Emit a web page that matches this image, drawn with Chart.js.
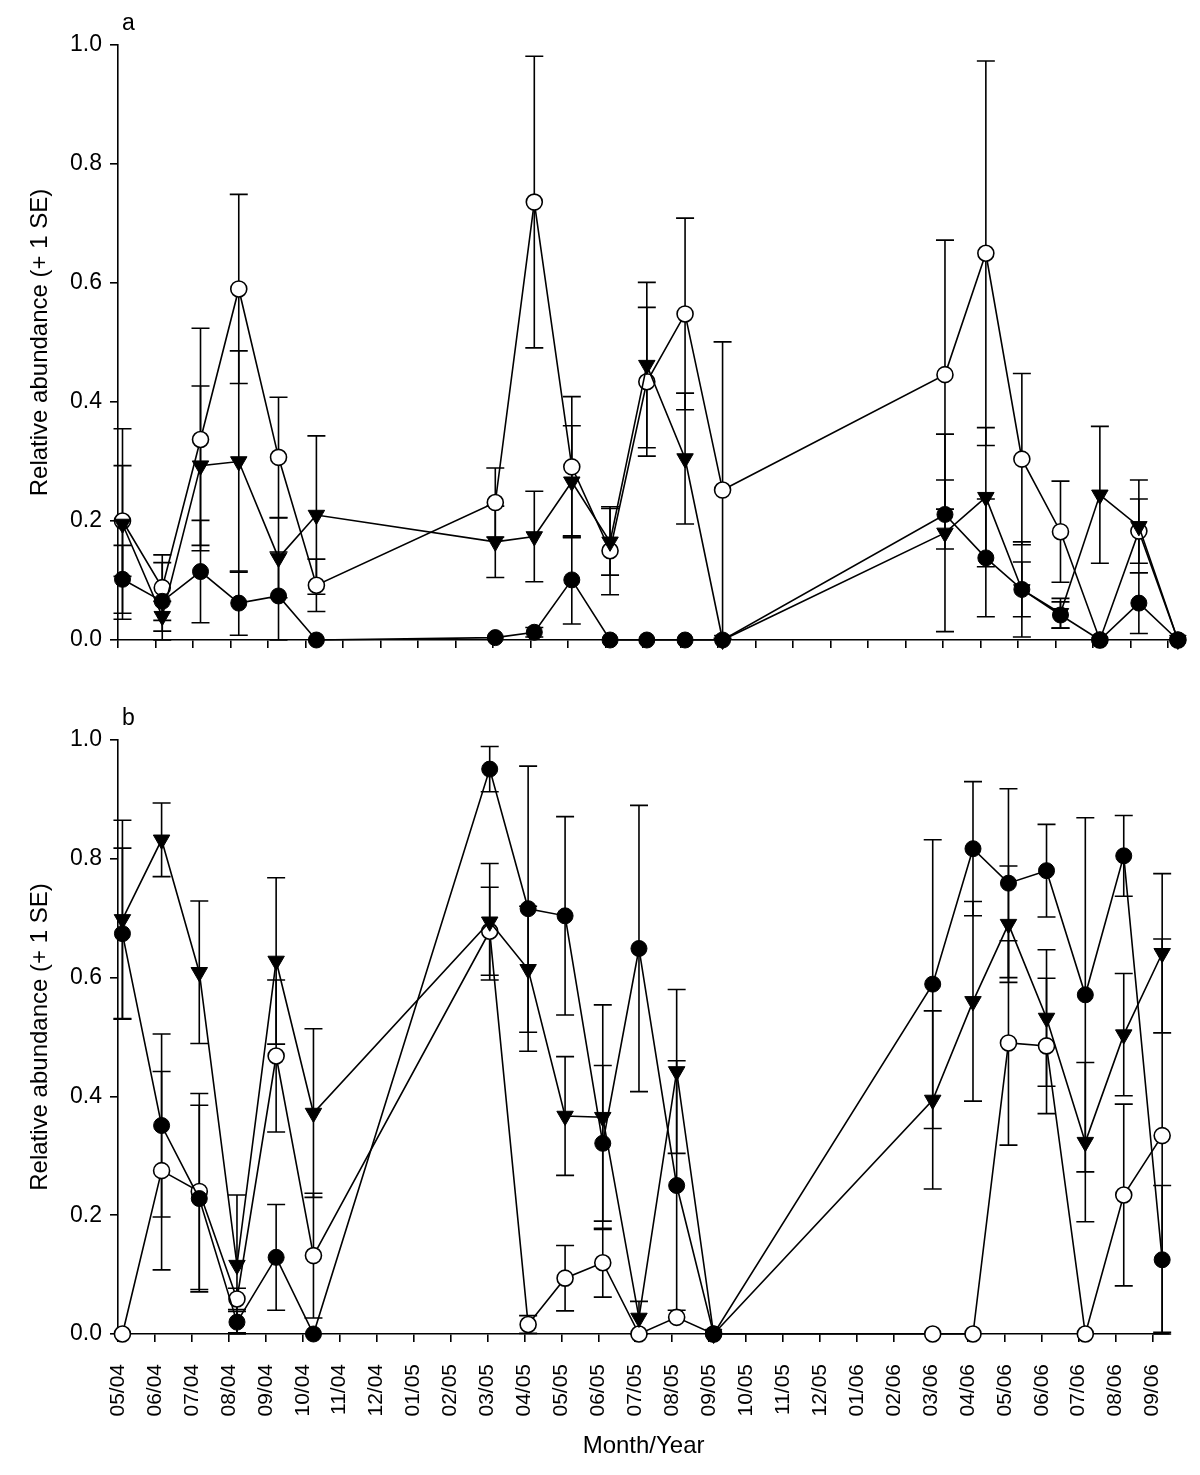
<!DOCTYPE html>
<html>
<head>
<meta charset="utf-8">
<title>Relative abundance</title>
<script src="https://cdn.jsdelivr.net/npm/chart.js@4.4.1/dist/chart.umd.min.js"></script>
<style>
  html, body { margin: 0; padding: 0; background: #fff; }
  #wrap { position: relative; width: 1200px; height: 1475px; }
  canvas { position: absolute; left: 0; }
  #chartA { top: 0; }
  #chartB { top: 700px; }
</style>
</head>
<body>
<div id="wrap">
  <canvas id="chartA" width="1200" height="700"></canvas>
  <canvas id="chartB" width="1200" height="775"></canvas>
</div>
<script>
// mois de l'axe x (index 0 = 05/04)
var monthLabels = ['05/04', '06/04', '07/04', '08/04', '09/04', '10/04', '11/04', '12/04',
    '01/05', '02/05', '03/05', '04/05', '05/05', '06/05', '07/05', '08/05', '09/05', '10/05',
    '11/05', '12/05', '01/06', '02/06', '03/06', '04/06', '05/06', '06/06', '07/06', '08/06', '09/06'];
// dates d'echantillonnage, en mois depuis 05/04
var sampleDates = [0.12, 1.18, 2.2, 3.22, 4.28, 5.29, 10.06, 11.1, 12.1, 13.12, 14.1, 15.12,
    16.12, 22.05, 23.14, 24.1, 25.13, 26.18, 27.22, 28.26];
var yTicks = [0, 0.2, 0.4, 0.6, 0.8, 1.0];

// panneau a
var aFilled = [0.102, 0.065, 0.115, 0.062, 0.074, 0, 0.004, 0.013, 0.101, 0, 0, 0, 0, 0.211, 0.138, 0.085, 0.042, 0, 0.062, 0];
var aFilledSE = [0.057, 0.065, 0.086, 0.054, 0.074, 0, 0, 0.008, 0.074, 0, 0, 0, 0, 0.058, 0.099, 0.046, 0.022, 0, 0.051, 0];
var aOpen = [0.2, 0.088, 0.337, 0.59, 0.307, 0.092, 0.231, 0.736, 0.291, 0.15, 0.434, 0.548, 0.252, 0.446, 0.65, 0.304, 0.182, 0, 0.183, 0];
var aOpenSE = [0.093, 0.055, 0.187, 0.159, 0.101, 0.044, 0.058, 0.245, 0.118, 0.074, 0.125, 0.161, 0.249, 0.226, 0.323, 0.144, 0.085, 0, 0.054, 0];
var aTri = [0.195, 0.04, 0.293, 0.3, 0.138, 0.21, 0.165, 0.174, 0.266, 0.165, 0.462, 0.305, 0, 0.18, 0.24, 0.085, 0.045, 0.244, 0.191, 0];
var aTriSE = [0.16, 0.025, 0.134, 0.186, 0.067, 0.133, 0.06, 0.076, 0.094, 0.056, 0.139, 0.11, 0, 0.166, 0.117, 0.08, 0.025, 0.115, 0.078, 0];

// panneau b
var bFilled = [0.674, 0.351, 0.228, 0.02, 0.129, 0, 0.951, 0.716, 0.704, 0.321, 0.649, 0.25, 0, 0.589, 0.817, 0.759, 0.78, 0.571, 0.805, 0.125];
var bFilledSE = [0.144, 0.154, 0.157, 0.018, 0.089, 0, 0.038, 0.24, 0.167, 0.131, 0.241, 0.21, 0, 0.243, 0.113, 0.159, 0.078, 0.298, 0.068, 0.125];
var bOpen = [0, 0.275, 0.24, 0.059, 0.468, 0.132, 0.678, 0.016, 0.094, 0.12, 0, 0.028, 0, 0, 0, 0.49, 0.485, 0, 0.234, 0.334];
var bOpenSE = [0, 0.167, 0.165, 0.018, 0.128, 0.105, 0.074, 0.015, 0.055, 0.058, 0, 0, 0, 0, 0, 0.172, 0.114, 0, 0.153, 0.331];
var bTri = [0.698, 0.832, 0.609, 0.116, 0.628, 0.372, 0.694, 0.614, 0.367, 0.365, 0.027, 0.442, 0, 0.394, 0.56, 0.69, 0.532, 0.323, 0.504, 0.641];
var bTriSE = [0.167, 0.062, 0.12, 0.118, 0.14, 0.142, 0.098, 0.106, 0.1, 0.189, 0.028, 0.138, 0, 0.15, 0.168, 0.098, 0.115, 0.134, 0.103, 0.134];

var fontFamily = "'Liberation Sans', Arial, sans-serif";

// barres d'erreur (+/- 1 SE), dessinees sous les points
var errorBars = {
    id: 'errorBars',
    beforeDatasetsDraw: function(chart) {
        var ctx = chart.ctx;
        var xs = chart.scales.x, ys = chart.scales.y;
        ctx.save();
        ctx.strokeStyle = '#000';
        ctx.lineWidth = 1.6;
        chart.data.datasets.forEach(function(ds) {
            ds.data.forEach(function(p, i) {
                var se = ds.errors[i];
                if (!se) return;
                var x = xs.getPixelForValue(p.x);
                var yTop = ys.getPixelForValue(p.y + se);
                var yBot = ys.getPixelForValue(Math.max(0, p.y - se));
                ctx.beginPath();
                ctx.moveTo(x, yTop); ctx.lineTo(x, yBot);
                ctx.moveTo(x - 9, yTop); ctx.lineTo(x + 9, yTop);
                ctx.moveTo(x - 9, yBot); ctx.lineTo(x + 9, yBot);
                ctx.stroke();
            });
        });
        ctx.restore();
    }
};

// lettre du panneau (a / b)
var panelLetter = {
    id: 'panelLetter',
    afterDraw: function(chart, args, opts) {
        var ctx = chart.ctx;
        ctx.save();
        ctx.fillStyle = '#000';
        ctx.font = '23px ' + fontFamily;
        ctx.textBaseline = 'middle';
        ctx.fillText(opts.text, chart.chartArea.left + 4, chart.chartArea.top - 21);
        ctx.restore();
    }
};

function points(values) {
    return sampleDates.map(function(d, i) { return { x: d, y: values[i] }; });
}

function makeChart(canvasId, letter, filled, filledSE, open, openSE, tri, triSE, isBottom) {
    var ctx = document.getElementById(canvasId).getContext('2d');
    var axisHeight = isBottom ? 141 : 60;
    var line = { showLine: true, borderColor: '#000', borderWidth: 1.6, tension: 0, clip: false };
    return new Chart(ctx, {
        type: 'scatter',
        data: {
            datasets: [Object.assign({
                data: points(filled),
                errors: filledSE,
                pointStyle: 'circle',
                pointRadius: 8,
                pointBackgroundColor: '#000',
                pointBorderColor: '#000',
                pointBorderWidth: 1
            }, line), Object.assign({
                data: points(tri),
                errors: triSE,
                pointStyle: 'triangle',
                rotation: 180,
                pointRadius: 9.5,
                pointBackgroundColor: '#000',
                pointBorderColor: '#000',
                pointBorderWidth: 1
            }, line), Object.assign({
                data: points(open),
                errors: openSE,
                pointStyle: 'circle',
                pointRadius: 8,
                pointBackgroundColor: '#fff',
                pointBorderColor: '#000',
                pointBorderWidth: 1.6
            }, line)]
        },
        options: {
            responsive: false,
            animation: false,
            devicePixelRatio: 1,
            layout: { padding: { top: isBottom ? 40 : 45, right: 15, left: 0, bottom: 0 } },
            plugins: {
                colors: { enabled: false },
                legend: { display: false },
                tooltip: { enabled: false },
                panelLetter: { text: letter }
            },
            scales: {
                x: {
                    type: 'linear',
                    min: 0,
                    max: 28.45,
                    afterBuildTicks: function(scale) {
                        scale.ticks = monthLabels.map(function(l, i) { return { value: i }; });
                    },
                    afterFit: function(scale) { scale.height = axisHeight; },
                    border: { display: true, color: '#000', width: 1.6 },
                    grid: { drawOnChartArea: false, drawTicks: true, tickLength: 8, color: '#000', lineWidth: 1.6 },
                    ticks: {
                        display: isBottom,
                        autoSkip: false,
                        maxRotation: 90,
                        minRotation: 90,
                        padding: 22,
                        color: '#000',
                        font: { family: fontFamily, size: 21 },
                        callback: function(v) { return monthLabels[v]; }
                    },
                    title: {
                        display: isBottom,
                        text: 'Month/Year',
                        color: '#000',
                        font: { family: fontFamily, size: 24 },
                        padding: { top: 4, bottom: 14 }
                    }
                },
                y: {
                    min: 0,
                    max: 1,
                    afterBuildTicks: function(scale) {
                        scale.ticks = yTicks.map(function(v) { return { value: v }; });
                    },
                    afterFit: function(scale) { scale.width = 118; },
                    border: { display: true, color: '#000', width: 1.6 },
                    grid: { drawOnChartArea: false, drawTicks: true, tickLength: 8, color: '#000', lineWidth: 1.6 },
                    ticks: {
                        padding: 8,
                        color: '#000',
                        font: { family: fontFamily, size: 23 },
                        callback: function(v) { return v.toFixed(1); }
                    },
                    title: {
                        display: true,
                        text: 'Relative abundance (+ 1 SE)',
                        color: '#000',
                        font: { family: fontFamily, size: 24 },
                        padding: { top: 26, bottom: 0 }
                    }
                }
            }
        },
        plugins: [errorBars, panelLetter]
    });
}

document.addEventListener('DOMContentLoaded', function() {
    makeChart('chartA', 'a', aFilled, aFilledSE, aOpen, aOpenSE, aTri, aTriSE, false);
    makeChart('chartB', 'b', bFilled, bFilledSE, bOpen, bOpenSE, bTri, bTriSE, true);
});
</script>
</body>
</html>
